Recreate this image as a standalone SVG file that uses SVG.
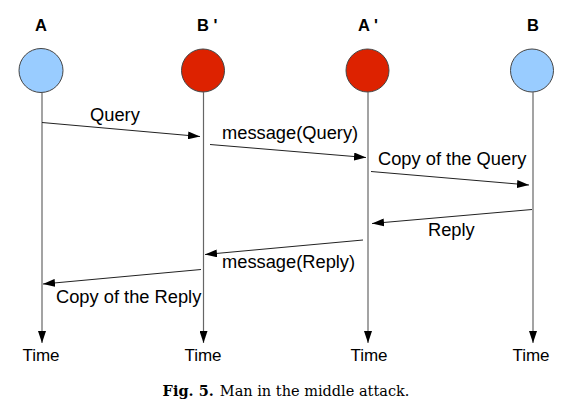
<svg xmlns="http://www.w3.org/2000/svg" width="582" height="411" viewBox="0 0 582 411">
<defs>
<marker id="ah" viewBox="0 0 12 8" refX="12" refY="4" markerWidth="12" markerHeight="8" markerUnits="userSpaceOnUse" orient="auto">
<path d="M0,0 L12,4 L0,8 z" fill="#000"/>
</marker>
</defs>
<style>
.hd{font-family:"Liberation Sans",Arial,sans-serif;font-weight:bold;font-size:16.5px;fill:#000}
.lb{font-family:"Liberation Sans",Arial,sans-serif;font-size:18.3px;fill:#000}
.tm{font-family:"Liberation Sans",Arial,sans-serif;font-size:17px;fill:#000;text-anchor:middle}
.life{stroke:#666;stroke-width:1.2;fill:none}
.msg{stroke:#222;stroke-width:1;fill:none;marker-end:url(#ah)}
.blue{fill:#99ccff;stroke:#444;stroke-width:1}
.red{fill:#dd2200;stroke:#444;stroke-width:1}
.cap{font-family:"DejaVu Serif","Liberation Serif",serif;font-size:14.5px;fill:#000;text-anchor:middle}
</style>
<g id="node-A">
<text class="hd" x="35" y="31">A</text>
<circle class="blue" cx="41" cy="70.5" r="22"/>
<line class="life" x1="42" y1="93" x2="42" y2="343" marker-end="url(#ah)"/>
<text class="tm" x="41" y="360.5">Time</text>
</g>
<g id="node-Bp">
<text class="hd" x="197" y="31" xml:space="preserve">B '</text>
<circle class="red" cx="203" cy="70.5" r="21.5"/>
<line class="life" x1="203.5" y1="92" x2="203.5" y2="343" marker-end="url(#ah)"/>
<text class="tm" x="203" y="360.5">Time</text>
</g>
<g id="node-Ap">
<text class="hd" x="358" y="31" xml:space="preserve">A '</text>
<circle class="red" cx="367.5" cy="70.5" r="21.5"/>
<line class="life" x1="368" y1="92" x2="368" y2="343" marker-end="url(#ah)"/>
<text class="tm" x="369" y="360.5">Time</text>
</g>
<g id="node-B">
<text class="hd" x="527" y="31">B</text>
<circle class="blue" cx="532" cy="70.5" r="21.5"/>
<line class="life" x1="533" y1="92" x2="533" y2="343" marker-end="url(#ah)"/>
<text class="tm" x="531" y="360.5">Time</text>
</g>
<g id="connectors">
<line class="msg" x1="42" y1="122.5" x2="200" y2="136.5"/>
<line class="msg" x1="210" y1="144.5" x2="366" y2="157.5"/>
<line class="msg" x1="371" y1="171.5" x2="529" y2="185"/>
<line class="msg" x1="532" y1="209.5" x2="372" y2="223.5"/>
<line class="msg" x1="363" y1="240" x2="205" y2="254.5"/>
<line class="msg" x1="201" y1="269.5" x2="43" y2="284"/>
<text class="lb" x="90" y="121">Query</text>
<text class="lb" x="222" y="139">message(Query)</text>
<text class="lb" x="378" y="165">Copy of the Query</text>
<text class="lb" x="428" y="236">Reply</text>
<text class="lb" x="222" y="268">message(Reply)</text>
<text class="lb" x="56" y="303">Copy of the Reply</text>
</g>
<text class="cap" x="286" y="396"><tspan font-weight="bold">Fig. 5.</tspan><tspan dx="6">Man in the middle attack.</tspan></text>
</svg>
